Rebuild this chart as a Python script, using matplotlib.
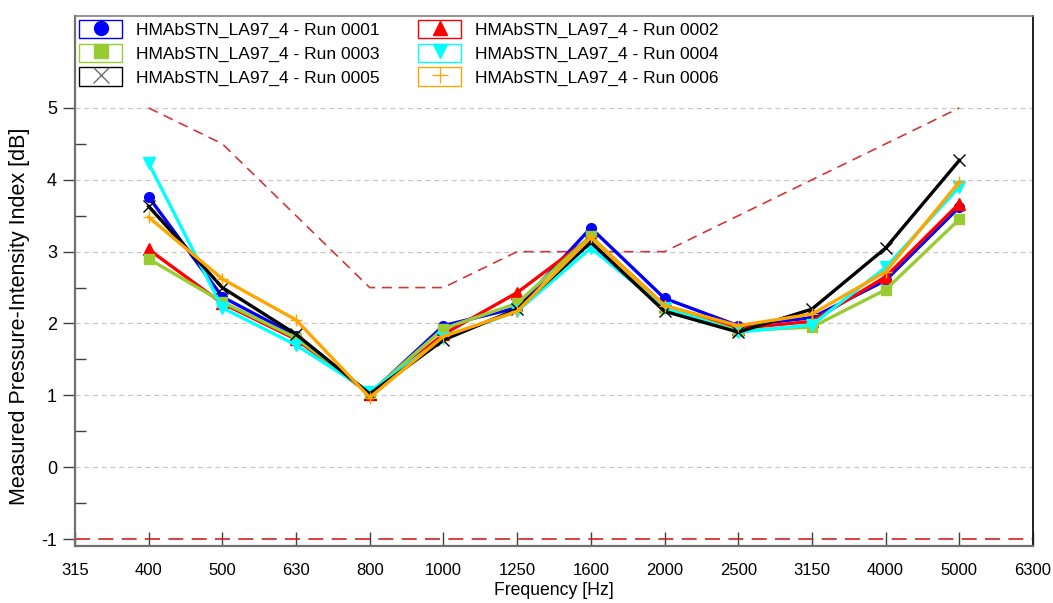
import matplotlib
matplotlib.use("Agg")
import matplotlib.pyplot as plt
from matplotlib.patches import Rectangle
from matplotlib.lines import Line2D
from matplotlib.legend_handler import HandlerTuple

plt.rcParams['font.family'] = ['Liberation Sans', 'DejaVu Sans']
plt.rcParams['axes.unicode_minus'] = False

# Frequency axis (third-octave bands), data at 400..5000
tick_labels = ['315', '400', '500', '630', '800', '1000', '1250', '1600',
               '2000', '2500', '3150', '4000', '5000', '6300']
freqs = tick_labels[1:13]

run_names = ['HMAbSTN_LA97_4 - Run 0001', 'HMAbSTN_LA97_4 - Run 0002',
             'HMAbSTN_LA97_4 - Run 0003', 'HMAbSTN_LA97_4 - Run 0004',
             'HMAbSTN_LA97_4 - Run 0005', 'HMAbSTN_LA97_4 - Run 0006']

run_0001 = [3.76, 2.37, 1.83, 1.02, 1.97, 2.22, 3.33, 2.35, 1.97, 2.08, 2.60, 3.62]
run_0002 = [3.03, 2.28, 1.78, 1.02, 1.85, 2.43, 3.20, 2.25, 1.93, 2.03, 2.65, 3.67]
run_0003 = [2.90, 2.30, 1.80, 1.03, 1.93, 2.28, 3.22, 2.22, 1.90, 1.95, 2.47, 3.45]
run_0004 = [4.23, 2.22, 1.70, 1.05, 1.80, 2.17, 3.05, 2.22, 1.88, 1.98, 2.78, 3.90]
run_0005 = [3.63, 2.50, 1.85, 1.02, 1.77, 2.20, 3.13, 2.17, 1.88, 2.20, 3.05, 4.27]
run_0006 = [3.48, 2.62, 2.05, 0.97, 1.82, 2.17, 3.20, 2.25, 1.97, 2.13, 2.72, 3.97]

# Upper limit curve and lower limit
upper_limit = [5.0, 4.5, 3.5, 2.5, 2.5, 3.0, 3.0, 3.0, 3.5, 4.0, 4.5, 5.0]
lower_limit = -1.0

runs = [run_0001, run_0002, run_0003, run_0004, run_0005, run_0006]
colors = ['#0000ff', '#ff0000', '#99cc33', '#00ffff', '#000000', '#ffa500']
markers = ['o', '^', 's', 'v', 'x', '+']

fig = plt.figure(figsize=(10.53, 6.03), dpi=100)
ax = fig.add_axes([0.0712, 0.0945, 0.9098, 0.879])

x = list(range(1, len(freqs) + 1))

# Horizontal grid
for yv in [0, 1, 2, 3, 4, 5]:
    ax.axhline(yv, color='#c8c8c8', lw=0.9, dashes=(4, 3), zorder=1)

ax.plot(x, upper_limit, color='#d03838', lw=1.2, dashes=(6, 4), zorder=2)
ax.axhline(lower_limit, color='#d02020', lw=1.2, dashes=(9, 5), zorder=2)

handles = []
for vals, c, m in zip(runs, colors, markers):
    ms = 7 if m in ('o', 's') else 8
    ax.plot(x, vals, color=c, lw=2.4, marker=m, ms=ms, mew=1.0, zorder=3)
    box = Rectangle((0, 0), 1, 1, facecolor='white', edgecolor=c, lw=1.0)
    if m in ('x', '+'):
        mk = Line2D([], [], ls='none', marker=m, color=c if m == '+' else '#606060',
                    ms=11, mew=0.9)
    else:
        mk = Line2D([], [], ls='none', marker=m, color=c, ms=10)
    handles.append((box, mk))

# legend fills column-wise; reorder so rows read 0001/0002, 0003/0004, ...
order = [0, 2, 4, 1, 3, 5]
leg = ax.legend([handles[i] for i in order], [run_names[i] for i in order],
                ncol=2, loc='upper left',
                bbox_to_anchor=(4 / 958, 1 - 4 / 530), frameon=False, fontsize=12.5,
                handler_map={tuple: HandlerTuple(ndivide=1)},
                handlelength=2.5, handleheight=1.26, handletextpad=0.8,
                columnspacing=2.2, labelspacing=0.3, borderpad=0,
                borderaxespad=0)

ax.set_xlim(0, len(tick_labels) - 1)
ax.set_ylim(-1.097, 6.28)
ax.set_xticks(range(len(tick_labels)))
ax.set_xticklabels(tick_labels)
ax.set_yticks([-1, 0, 1, 2, 3, 4, 5])
ax.set_yticks([-0.5, 0.5, 1.5, 2.5, 3.5, 4.5], minor=True)

ax.tick_params(axis='x', direction='in', length=10, width=1, color='#404040',
               labelsize=12, pad=12)
ax.tick_params(axis='y', which='major', direction='out', length=8.6, width=1,
               color='#404040', labelsize=13, pad=4.3)
ax.tick_params(axis='y', which='minor', direction='in', length=8, width=1,
               color='#404040')

for side in ['left', 'bottom']:
    ax.spines[side].set_color('#707070')
    ax.spines[side].set_linewidth(1.6)
ax.spines['top'].set_color('#808080')
ax.spines['top'].set_linewidth(1.2)
ax.spines['right'].set_color('#202020')
ax.spines['right'].set_linewidth(1.4)

ax.set_xlabel('Frequency [Hz]', fontsize=12.7, labelpad=3)
ax.set_ylabel('Measured Pressure-Intensity Index [dB]', fontsize=15.5)
ax.yaxis.set_label_coords(-0.047, 0.434)

fig.savefig('out.png', dpi=100)
